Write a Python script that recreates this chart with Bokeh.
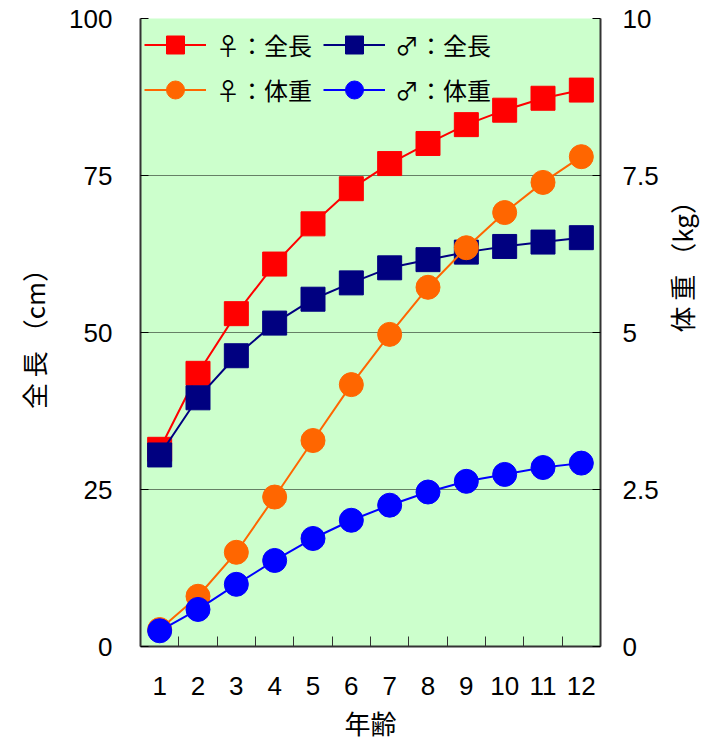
from math import pi
from bokeh.plotting import figure
from bokeh.models import Range1d, LinearAxis, FixedTicker, Legend, LegendItem
from bokeh.embed import file_html
from bokeh.resources import INLINE

# ---- data ----
ages = [1, 2, 3, 4, 5, 6, 7, 8, 9, 10, 11, 12]
age_labels = ["1", "2", "3", "4", "5", "6", "7", "8", "9", "10", "11", "12"]
female_length = [31.4, 43.5, 53.0, 60.9, 67.3, 72.9, 76.9, 80.1, 83.1, 85.4, 87.3, 88.6]
male_length = [30.5, 39.6, 46.3, 51.5, 55.3, 57.9, 60.3, 61.6, 62.8, 63.7, 64.4, 65.1]
female_weight = [0.27, 0.8, 1.5, 2.38, 3.28, 4.17, 4.97, 5.72, 6.35, 6.91, 7.39, 7.8]
male_weight = [0.25, 0.59, 0.99, 1.37, 1.72, 2.01, 2.25, 2.46, 2.63, 2.74, 2.85, 2.92]
length_ticks = [0, 25, 50, 75, 100]
length_tick_labels = ["0", "25", "50", "75", "100"]
weight_ticks = [0, 2.5, 5, 7.5, 10]
weight_tick_labels = ["0", "2.5", "5", "7.5", "10"]
grid_values = [25, 50, 75]
series_names = ["♀：全長", "♂：全長", "♀：体重", "♂：体重"]

CJK = "Noto Sans CJK JP"
NUM = "Liberation Sans"
TICK_SIZE = "26px"
TITLE_SIZE = "26px"

p = figure(frame_width=460, frame_height=628,
           x_range=Range1d(0.5, 12.5), y_range=Range1d(0, 100),
           output_backend="svg", toolbar_location=None,
           min_border_left=140, min_border_right=118,
           min_border_top=18, min_border_bottom=104)
p.extra_y_ranges = {"w": Range1d(0, 10)}
p.background_fill_color = "#ccffcc"
p.border_fill_color = "white"
p.outline_line_color = None

# x axis
xa = p.xaxis[0]
xa.ticker = FixedTicker(ticks=ages, minor_ticks=[a + 0.5 for a in ages[:-1]])
xa.major_label_overrides = {a: l for a, l in zip(ages, age_labels)}
xa.major_tick_in = 0
xa.major_tick_out = 0
xa.minor_tick_in = 10
xa.minor_tick_out = 0
xa.minor_tick_line_color = "#333333"
xa.axis_line_color = "#333333"
xa.axis_line_width = 2
xa.major_label_standoff = 30
xa.major_label_text_font = NUM
xa.major_label_text_font_size = TICK_SIZE
xa.major_label_text_color = "black"
xa.axis_label = "年齢"
xa.axis_label_text_font = CJK
xa.axis_label_text_font_size = TITLE_SIZE
xa.axis_label_text_font_style = "normal"
xa.axis_label_text_color = "black"
xa.axis_label_standoff = 6

# left axis
ya = p.yaxis[0]
ya.ticker = FixedTicker(ticks=length_ticks)
ya.major_label_overrides = {t: l for t, l in zip(length_ticks, length_tick_labels)}
ya.major_tick_in = 8
ya.major_tick_out = 0
ya.minor_tick_line_color = None
ya.axis_line_color = "#333333"
ya.axis_line_width = 2
ya.major_label_standoff = 28
ya.major_label_text_font = NUM
ya.major_label_text_font_size = TICK_SIZE
ya.major_label_text_color = "black"
ya.axis_label = "全 長 （cm）"
ya.axis_label_text_font = CJK
ya.axis_label_text_font_size = TITLE_SIZE
ya.axis_label_text_font_style = "normal"
ya.axis_label_text_color = "black"
ya.axis_label_standoff = 14

# right axis
ra = LinearAxis(y_range_name="w")
ra.ticker = FixedTicker(ticks=weight_ticks)
ra.major_label_overrides = {t: l for t, l in zip(weight_ticks, weight_tick_labels)}
ra.major_tick_in = 8
ra.major_tick_out = 0
ra.minor_tick_line_color = None
ra.axis_line_color = "#333333"
ra.axis_line_width = 2
ra.major_label_standoff = 22
ra.major_label_text_font = NUM
ra.major_label_text_font_size = TICK_SIZE
ra.major_label_text_color = "black"
ra.axis_label = "体 重 （kg）"
ra.axis_label_text_font = CJK
ra.axis_label_text_font_size = TITLE_SIZE
ra.axis_label_text_font_style = "normal"
ra.axis_label_text_color = "black"
ra.axis_label_standoff = 20
try:
    ra.axis_label_orientation = pi / 2
except Exception:
    pass
p.add_layout(ra, "right")

# grid
p.xgrid.visible = False
p.ygrid.ticker = FixedTicker(ticks=grid_values)
p.ygrid.grid_line_color = "black"
p.ygrid.grid_line_dash = "1 1"
p.ygrid.grid_line_width = 1

colors = ["#ff0000", "#000080", "#ff6600", "#0000ff"]
items = []
series = [(female_length, "square", "default"), (male_length, "square", "default"),
          (female_weight, "circle", "w"), (male_weight, "circle", "w")]
for (vals, marker, rng), c, name in zip(series, colors, series_names):
    l = p.line(ages, vals, line_color=c, line_width=2, y_range_name=rng)
    s = p.scatter(ages, vals, marker=marker, size=24, fill_color=c, line_color=c,
                  y_range_name=rng)
    items.append(LegendItem(label=name, renderers=[l, s]))

legend = Legend(items=items, location="top_left", orientation="horizontal", ncols=2)
legend.background_fill_alpha = 0
legend.border_line_color = None
legend.margin = 4
legend.padding = 6
legend.spacing = 0
legend.glyph_width = 62
legend.glyph_height = 45
legend.label_width = 107
legend.label_standoff = 10
legend.label_text_font = CJK
legend.label_text_font_size = "24px"
legend.label_text_color = "black"
p.add_layout(legend)

open("out.html", "w").write(file_html(p, INLINE))
